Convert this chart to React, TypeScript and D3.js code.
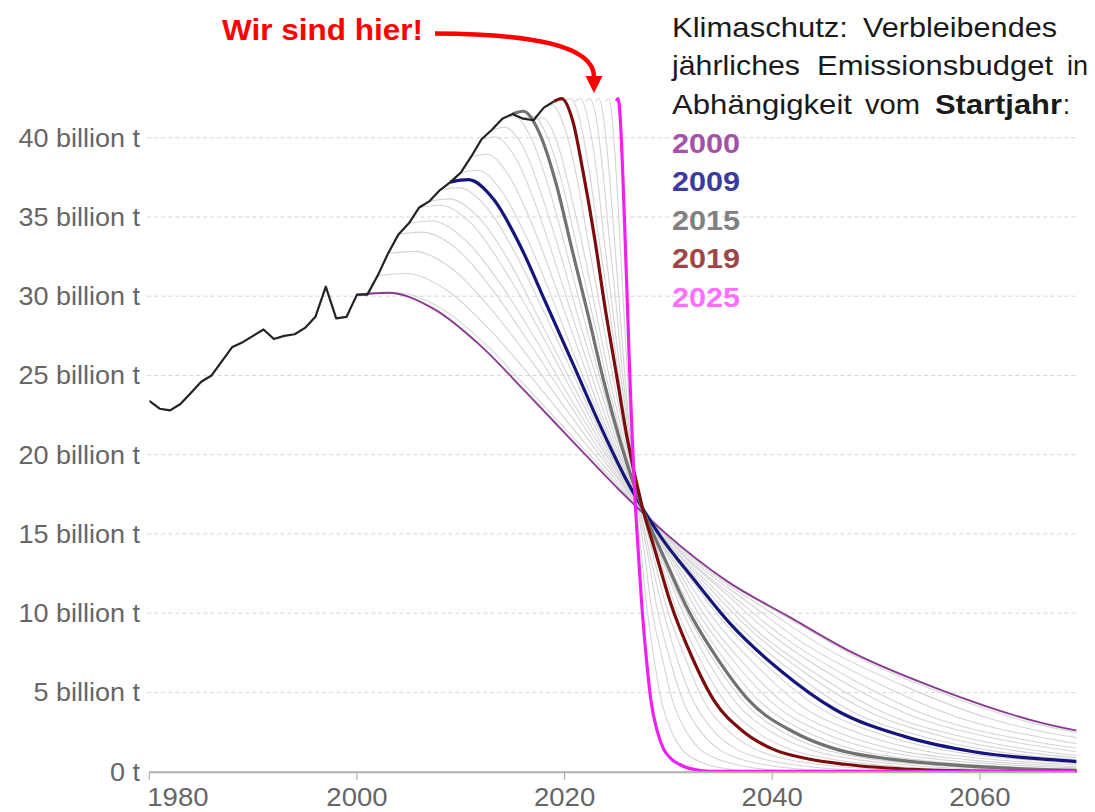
import React from 'react';
import * as d3 from 'd3';

// Historical emissions (billion t)
const histYears = [1980,1981,1982,1983,1984,1985,1986,1987,1988,1989,1990,1991,1992,1993,1994,1995,1996,1997,1998,1999,2000,2001,2002,2003,2004,2005,2006,2007,2008,2009,2010,2011,2012,2013,2014,2015,2016,2017,2018,2019];
const histValues = [23.4,22.9,22.8,23.2,23.9,24.6,25.0,25.9,26.8,27.1,27.5,27.9,27.3,27.5,27.6,28.0,28.7,30.6,28.6,28.7,30.1,30.1,31.3,32.7,33.9,34.6,35.6,36.0,36.7,37.2,37.8,38.8,39.9,40.5,41.2,41.5,41.2,41.1,41.9,42.3];

// Budget pathways, one per start year
const startYears = [2000,2001,2002,2003,2004,2005,2006,2007,2008,2009,2010,2011,2012,2013,2014,2015,2016,2017,2018,2019,2020,2021,2022,2023,2024,2025];

const pathYears: number[][] = [
  [2000,2003.0,2007.4,2011.9,2016.3,2020.8,2025.2,2029.7,2035.6,2041.6,2047.5,2056.4,2065.3,2077.2],
  [2001,2003.9,2008.2,2012.5,2016.8,2021.2,2025.5,2029.8,2035.6,2041.3,2047.1,2055.7,2064.4,2075.9],
  [2002,2004.7,2008.7,2012.7,2016.8,2020.8,2024.8,2028.8,2034.2,2039.6,2044.9,2053.0,2061.1,2071.8],
  [2003,2005.5,2009.2,2012.9,2016.7,2020.4,2024.1,2027.8,2032.8,2037.8,2042.7,2050.2,2057.7,2067.6,2077.5],
  [2004,2006.3,2009.8,2013.2,2016.7,2020.2,2023.6,2027.1,2031.7,2036.3,2041.0,2047.9,2054.8,2064.1,2073.3],
  [2005,2007.2,2010.4,2013.7,2017.0,2020.2,2023.5,2026.8,2031.1,2035.5,2039.8,2046.3,2052.9,2061.6,2070.3],
  [2006,2008.0,2011.1,2014.1,2017.2,2020.2,2023.2,2026.3,2030.3,2034.4,2038.4,2044.5,2050.6,2058.7,2066.8,2077.0],
  [2007,2008.9,2011.8,2014.7,2017.5,2020.4,2023.3,2026.2,2030.0,2033.8,2037.7,2043.4,2049.2,2056.8,2064.5,2074.1],
  [2008,2009.8,2012.5,2015.2,2017.9,2020.6,2023.2,2025.9,2029.5,2033.1,2036.7,2042.1,2047.4,2054.6,2061.8,2070.8],
  [2009,2010.7,2013.2,2015.7,2018.2,2020.8,2023.3,2025.8,2029.2,2032.5,2035.9,2040.9,2046.0,2052.7,2059.4,2067.8,2076.2],
  [2010,2011.6,2013.9,2016.3,2018.7,2021.0,2023.4,2025.7,2028.9,2032.0,2035.2,2039.9,2044.6,2050.9,2057.2,2065.1,2072.9],
  [2011,2012.5,2014.6,2016.8,2019.0,2021.2,2023.3,2025.5,2028.4,2031.3,2034.2,2038.6,2042.9,2048.8,2054.6,2061.8,2069.1,2083.6],
  [2012,2013.3,2015.3,2017.3,2019.3,2021.3,2023.3,2025.3,2028.0,2030.7,2033.3,2037.3,2041.3,2046.7,2052.0,2058.7,2065.3,2078.7],
  [2013,2014.2,2016.1,2017.9,2019.8,2021.6,2023.5,2025.3,2027.8,2030.3,2032.7,2036.4,2040.1,2045.0,2050.0,2056.1,2062.3,2074.6],
  [2014,2015.1,2016.8,2018.5,2020.2,2021.9,2023.6,2025.3,2027.6,2029.8,2032.1,2035.5,2038.9,2043.4,2047.9,2053.6,2059.2,2070.6],
  [2015,2016.0,2017.6,2019.2,2020.7,2022.3,2023.8,2025.4,2027.5,2029.6,2031.7,2034.8,2037.9,2042.1,2046.2,2051.4,2056.6,2067.1,2077.5],
  [2016,2017.0,2018.4,2019.9,2021.3,2022.8,2024.2,2025.7,2027.6,2029.5,2031.5,2034.4,2037.3,2041.1,2045.0,2049.8,2054.6,2064.3,2074.0],
  [2017,2017.9,2019.2,2020.5,2021.9,2023.2,2024.5,2025.9,2027.6,2029.4,2031.2,2033.8,2036.5,2040.0,2043.6,2048.0,2052.4,2061.3,2070.2],
  [2018,2018.8,2020.0,2021.2,2022.3,2023.5,2024.7,2025.9,2027.5,2029.1,2030.6,2033.0,2035.4,2038.5,2041.7,2045.6,2049.6,2057.5,2065.3,2075],
  [2019,2019.7,2020.8,2021.8,2022.9,2023.9,2025.0,2026.0,2027.4,2028.8,2030.2,2032.3,2034.4,2037.2,2040.0,2043.5,2047.0,2054.0,2061.0,2075],
  [2020,2020.6,2021.5,2022.4,2023.3,2024.3,2025.2,2026.1,2027.3,2028.5,2029.7,2031.6,2033.4,2035.8,2038.3,2041.3,2044.4,2050.5,2056.5,2075],
  [2021,2021.5,2022.3,2023.1,2023.8,2024.6,2025.4,2026.2,2027.2,2028.2,2029.3,2030.8,2032.4,2034.4,2036.5,2039.1,2041.7,2046.9,2052.0,2075],
  [2022,2022.4,2023.1,2023.7,2024.3,2025.0,2025.6,2026.3,2027.1,2028.0,2028.8,2030.1,2031.4,2033.1,2034.8,2036.9,2039.0,2043.3,2047.6,2075],
  [2023,2023.3,2023.8,2024.3,2024.8,2025.3,2025.8,2026.3,2027.0,2027.7,2028.3,2029.4,2030.4,2031.7,2033.0,2034.7,2036.4,2039.7,2043.0,2075],
  [2024,2024.24,2024.61,2024.97,2025.33,2025.69,2026.06,2026.42,2026.9,2027.39,2027.87,2028.6,2029.32,2030.29,2031.26,2032.47,2033.68,2036.1,2038.52,2075],
  [2025,2025.15,2025.38,2025.6,2025.83,2026.06,2026.28,2026.51,2026.81,2027.11,2027.42,2027.87,2028.32,2028.93,2029.53,2030.29,2031.04,2032.55,2034.06,2075],
];

const pathValues: number[][] = [
  [30.1,30.22,29.20,26.88,23.93,20.83,17.82,15.05,12.04,9.78,7.59,5.12,3.19,1.81],
  [30.1,30.22,29.20,26.88,23.93,20.83,17.82,15.05,12.04,9.78,7.59,5.12,3.19,1.81],
  [31.3,31.43,30.36,27.95,24.88,21.66,18.53,15.65,12.52,10.17,7.89,5.32,3.32,1.88],
  [32.7,32.83,31.72,29.20,26.00,22.63,19.36,16.35,13.08,10.63,8.24,5.56,3.47,1.96,1.11],
  [33.9,34.04,32.88,30.27,26.95,23.46,20.07,16.95,13.56,11.02,8.54,5.76,3.59,2.03,1.15],
  [34.6,34.74,33.56,30.90,27.51,23.94,20.48,17.30,13.84,11.25,8.72,5.88,3.67,2.08,1.18],
  [35.6,35.74,34.53,31.79,28.30,24.64,21.08,17.80,14.24,11.57,8.97,6.05,3.77,2.14,1.21,0.68],
  [36.0,36.14,34.92,32.15,28.62,24.91,21.31,18.00,14.40,11.70,9.07,6.12,3.82,2.16,1.22,0.68],
  [36.7,36.85,35.60,32.77,29.18,25.40,21.73,18.35,14.68,11.93,9.25,6.24,3.89,2.20,1.25,0.70],
  [37.2,37.35,36.08,33.22,29.57,25.74,22.02,18.60,14.88,12.09,9.37,6.32,3.94,2.23,1.26,0.71,0.41],
  [37.8,37.95,36.67,33.76,30.05,26.16,22.38,18.90,15.12,12.29,9.53,6.43,4.01,2.27,1.29,0.72,0.42],
  [38.8,38.96,37.64,34.65,30.85,26.85,22.97,19.40,15.52,12.61,9.78,6.60,4.11,2.33,1.32,0.74,0.43,0.12],
  [39.9,40.06,38.70,35.63,31.72,27.61,23.62,19.95,15.96,12.97,10.05,6.78,4.23,2.39,1.36,0.76,0.44,0.12],
  [40.5,40.66,39.29,36.17,32.20,28.03,23.98,20.25,16.20,13.16,10.21,6.89,4.29,2.43,1.38,0.77,0.45,0.12],
  [41.2,41.36,39.96,36.79,32.75,28.51,24.39,20.60,16.48,13.39,10.38,7.00,4.37,2.47,1.40,0.78,0.45,0.12],
  [41.5,41.67,40.26,37.06,32.99,28.72,24.57,20.75,16.60,13.49,10.46,7.06,4.40,2.49,1.41,0.79,0.46,0.12,0.03],
  [41.2,41.36,39.96,36.79,32.75,28.51,24.39,20.60,16.48,13.39,10.38,7.00,4.37,2.47,1.40,0.78,0.45,0.12,0.03],
  [41.1,41.26,39.87,36.70,32.67,28.44,24.33,20.55,16.44,13.36,10.36,6.99,4.36,2.47,1.40,0.78,0.45,0.12,0.03],
  [41.9,42.07,40.64,37.42,33.31,29.00,24.80,20.95,16.76,13.62,10.56,7.12,4.44,2.51,1.42,0.80,0.46,0.13,0.03,0.01],
  [42.3,42.47,41.03,37.77,33.63,29.27,25.04,21.15,16.92,13.75,10.66,7.19,4.48,2.54,1.44,0.80,0.47,0.13,0.03,0.01],
  [42.3,42.47,41.03,37.77,33.63,29.27,25.04,21.15,16.92,13.75,10.66,7.19,4.48,2.54,1.44,0.80,0.47,0.13,0.03,0.01],
  [42.3,42.47,41.03,37.77,33.63,29.27,25.04,21.15,16.92,13.75,10.66,7.19,4.48,2.54,1.44,0.80,0.47,0.13,0.03,0.01],
  [42.3,42.47,41.03,37.77,33.63,29.27,25.04,21.15,16.92,13.75,10.66,7.19,4.48,2.54,1.44,0.80,0.47,0.13,0.03,0.01],
  [42.3,42.47,41.03,37.77,33.63,29.27,25.04,21.15,16.92,13.75,10.66,7.19,4.48,2.54,1.44,0.80,0.47,0.13,0.03,0.01],
  [42.3,42.47,41.03,37.77,33.63,29.27,25.04,21.15,16.92,13.75,10.66,7.19,4.48,2.54,1.44,0.80,0.47,0.13,0.03,0.01],
  [42.3,42.47,41.03,37.77,33.63,29.27,25.04,21.15,16.92,13.75,10.66,7.19,4.48,2.54,1.44,0.80,0.47,0.13,0.03,0.01],
];

const highlightStarts = [2000, 2009, 2015, 2019, 2025];
const highlightLabels = ['2000', '2009', '2015', '2019', '2025'];

const yTicks = [0, 5, 10, 15, 20, 25, 30, 35, 40];
const yTickLabels = ['0 t', '5 billion t', '10 billion t', '15 billion t', '20 billion t', '25 billion t', '30 billion t', '35 billion t', '40 billion t'];
const xTicks = [1980, 2000, 2020, 2040, 2060];

const titleLines = [
  [{ w: 'Klimaschutz:', b: false }, { w: 'Verbleibendes', b: false }],
  [{ w: 'jährliches', b: false }, { w: 'Emissionsbudget', b: false }, { w: 'in', b: false }],
  [{ w: 'Abhängigkeit', b: false }, { w: 'vom', b: false }, { w: 'Startjahr', b: true }, { w: ':', b: false }],
];

// styling (not data)
const lineColors = ['#8a3b91', '#15157c', '#727272', '#7c0d0d', '#f021f0'];
const lineWidths = [1.9, 3.2, 3.2, 3.2, 3.2];
const legendColors = ['#a352a8', '#3b3ba0', '#808080', '#a04646', '#ff6eff'];
const titleWordPos = [
  [[672, 176], [863, 194]],
  [[672, 128], [817, 236], [1067, 21]],
  [[672, 180], [865, 55], [935, 127], [1063, 7]],
];

const FONT = '"Liberation Sans", Arial, Helvetica, sans-serif';

export default function App() {
  const W = 1095, H = 812;
  const x = d3.scaleLinear().domain([1980, 2069.2]).range([149.3, 1075.4]);
  const y = d3.scaleLinear().domain([0, 40]).range([771.7, 137.7]);

  const smooth = d3.line<[number, number]>().x(d => x(d[0])).y(d => y(d[1])).curve(d3.curveMonotoneX);
  const straight = d3.line<[number, number]>().x(d => x(d[0])).y(d => y(d[1]));

  const series = startYears.map((s, i) => ({
    start: s,
    pts: pathYears[i].map((t, j) => [t, pathValues[i][j]] as [number, number]),
  }));
  const grey = series.filter(s => !highlightStarts.includes(s.start));
  const hl = highlightStarts.map(s => series.find(d => d.start === s)!);
  const hist = histYears.map((t, i) => [t, histValues[i]] as [number, number]);

  const x0 = x.range()[0], x1 = x.range()[1];

  return (
    <svg width={W} height={H} style={{ position: 'absolute', left: 0, top: 0, background: '#fff' }} fontFamily={FONT}>
      <defs>
        <clipPath id="plot">
          <rect x={x0} y={0} width={x1 - x0 + 1} height={776} />
        </clipPath>
      </defs>
      <rect x={0} y={0} width={W} height={H} fill="#fff" />
      {/* gridlines */}
      {yTicks.filter(v => v > 0).map(v => (
        <line key={v} x1={x0 - 2} x2={x1} y1={y(v)} y2={y(v)} stroke="#d6d6d6" strokeWidth={1} strokeDasharray="4,3" />
      ))}
      {/* y labels */}
      {yTicks.map((v, i) => (
        <g key={'yl' + v} transform={`translate(140,${y(v) + 9}) scale(1.08,1)`}>
          <text textAnchor="end" fontSize={25} fill="#666">{yTickLabels[i]}</text>
        </g>
      ))}
      <g clipPath="url(#plot)">
        {grey.map(s => (
          <path key={s.start} d={smooth(s.pts)!} fill="none" stroke="#d4d4d4" strokeWidth={1.1} />
        ))}
        {hl.map((s, i) => (
          <path key={'h' + s.start} d={smooth(s.pts)!} fill="none" stroke={lineColors[i]} strokeWidth={lineWidths[i]} strokeLinejoin="round" />
        ))}
        <path d={straight(hist)!} fill="none" stroke="#222" strokeWidth={2.2} strokeLinejoin="round" />
      </g>
      {/* x axis */}
      <line x1={x0} x2={x1} y1={y(0) + 0.5} y2={y(0) + 0.5} stroke="#b0b0b0" strokeWidth={2} />
      {xTicks.map(t => (
        <line key={'xt' + t} x1={x(t)} x2={x(t)} y1={y(0)} y2={y(0) + 8} stroke="#b0b0b0" strokeWidth={1.2} />
      ))}
      {xTicks.map((t, i) => (
        <g key={'xl' + t} transform={`translate(${i === 0 ? x(t) - 2 : x(t)},806) scale(1.06,1)`}>
          <text textAnchor={i === 0 ? 'start' : 'middle'} fontSize={26} fill="#666">{String(t)}</text>
        </g>
      ))}
      {/* title */}
      {titleLines.map((line, li) => (
        <g key={'tl' + li}>
          {line.map((wd, wi) => (
            <text key={wi} x={titleWordPos[li][wi][0]} y={37 + li * 38.3} fontSize={28} fontWeight={wd.b ? 'bold' : 'normal'} fill="#1a1a1a"
              textLength={titleWordPos[li][wi][1]} lengthAdjust="spacingAndGlyphs">{wd.w}</text>
          ))}
        </g>
      ))}
      {/* legend years */}
      {highlightLabels.map((lab, i) => (
        <text key={'lg' + lab} x={672} y={152.5 + i * 38.6} fontSize={28} fontWeight="bold" fill={legendColors[i]}
          textLength={68} lengthAdjust="spacingAndGlyphs">{lab}</text>
      ))}
      {/* annotation */}
      <text x={222} y={40} fontSize={30} fontWeight="bold" fill="#f00" textLength={201} lengthAdjust="spacingAndGlyphs">Wir sind hier!</text>
      <path d="M435,33.5 C530,34 594,45 594,77" fill="none" stroke="#f00" strokeWidth={4.5} />
      <polygon points="585.5,76 602.5,76 594,93" fill="#f00" />
    </svg>
  );
}
